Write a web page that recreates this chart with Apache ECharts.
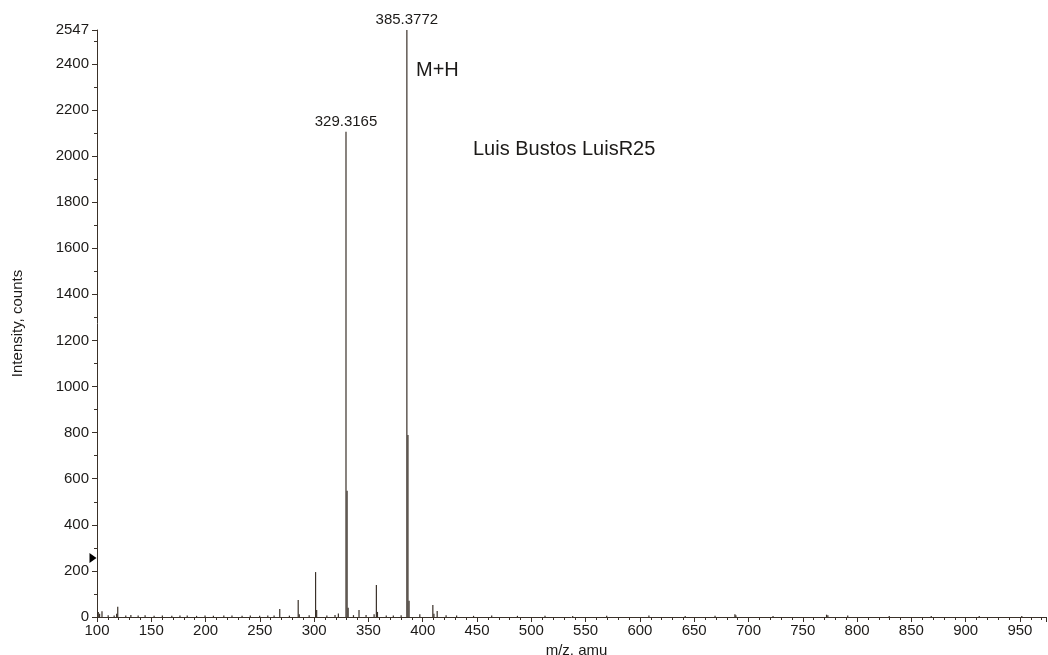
<!DOCTYPE html>
<html>
<head>
<meta charset="utf-8">
<script src="https://cdn.jsdelivr.net/npm/echarts@6/dist/echarts.min.js"></script>
<style>
  html, body { margin: 0; padding: 0; background: #fff; }
  #chart { width: 1048px; height: 655px; }
</style>
</head>
<body>
<div id="chart"></div>
<script>
// peak list (m/z, intensity in counts)
const peakMz = [101.2, 102.4, 104.6, 110.3, 115.8, 118.1, 119.1, 126.5, 131.2, 137.9, 144.3, 152.6,
    160.2, 168.9, 176.4, 183.1, 191.7, 199.5, 207.2, 216.8, 224.3, 233.6, 241.2, 249.8, 257.3, 263.1,
    268.3, 277.2, 285.3, 286.3, 295.4, 301.3, 302.3, 311.7, 319.2, 322.3, 329.3165, 330.32, 331.3,
    336.2, 341.3, 347.8, 355.2, 357.3, 358.3, 366.4, 372.9, 380.1, 385.3772, 386.38, 387.4, 397.3,
    409.3, 410.3, 413.3, 421.5, 431.2, 446.8, 463.5, 487.2, 512.6, 538.1, 569.4, 608.3, 641.7, 669.2,
    687.5, 688.4, 722.6, 771.9, 773.1, 791.4, 829.6, 868.3, 912.5, 951.7];
const peakInt = [22, 14, 25, 8, 6, 14, 45, 7, 9, 6, 8, 5,
    6, 5, 6, 7, 5, 6, 5, 6, 7, 5, 6, 5, 7, 6,
    35, 6, 74, 12, 8, 195, 30, 7, 9, 15, 2105, 548, 40,
    8, 30, 9, 12, 139, 22, 6, 7, 8, 2547, 790, 70, 12,
    52, 14, 26, 8, 6, 5, 6, 5, 5, 4, 5, 6, 4, 5,
    12, 8, 4, 10, 8, 6, 4, 4, 4, 4];
const labelledPeaks = [329.3165, 385.3772];

const xTicks = [100, 150, 200, 250, 300, 350, 400, 450, 500, 550, 600, 650, 700, 750, 800, 850, 900, 950];
const yTicks = [0, 200, 400, 600, 800, 1000, 1200, 1400, 1600, 1800, 2000, 2200, 2400, 2547];

const ink = '#3a3129';
const txt = '#1c1a18';
const font = '"Liberation Sans", Arial, sans-serif';

const chart = echarts.init(document.getElementById('chart'));

const barData = peakMz.map((mz, i) => {
    const item = {value: [mz, peakInt[i]]};
    if (labelledPeaks.indexOf(mz) >= 0) {
        item.label = {
            show: true,
            position: 'top',
            distance: 3,
            formatter: mz.toFixed(4),
            color: txt,
            fontSize: 15,
            fontFamily: font
        };
    }
    return item;
});

const option = {
    backgroundColor: '#fff',
    animation: false,
    grid: {left: 97, right: 2, top: 30, bottom: 38, outerBoundsMode: 'none', containLabel: false},
    xAxis: {
        type: 'value',
        min: 100,
        max: 974,
        interval: 50,
        name: 'm/z, amu',
        nameLocation: 'middle',
        nameGap: 23,
        nameTextStyle: {color: txt, fontSize: 15, fontFamily: font, padding: [0, 0, 0, 10]},
        axisLine: {lineStyle: {color: ink, width: 1}},
        axisTick: {show: true, length: 5, inside: false, lineStyle: {color: ink}},
        minorTick: {show: true, splitNumber: 5, length: 3, lineStyle: {color: ink}},
        splitLine: {show: false},
        axisLabel: {
            color: txt, fontSize: 15, fontFamily: font, margin: 6,
            formatter: v => xTicks.indexOf(v) >= 0 ? String(v) : ''
        }
    },
    yAxis: {
        type: 'value',
        min: 0,
        max: 2547,
        interval: 200,
        name: 'Intensity, counts',
        nameLocation: 'middle',
        nameGap: 72,
        nameTextStyle: {color: txt, fontSize: 15, fontFamily: font},
        axisLine: {show: true, lineStyle: {color: ink, width: 1}},
        axisTick: {show: true, length: 5, lineStyle: {color: ink}},
        minorTick: {show: true, splitNumber: 2, length: 3, lineStyle: {color: ink}},
        splitLine: {show: false},
        axisLabel: {
            color: txt, fontSize: 15, fontFamily: font, margin: 8,
            formatter: v => yTicks.indexOf(v) >= 0 ? String(v) : ''
        }
    },
    series: [{
        type: 'bar',
        barWidth: 1.2,
        itemStyle: {color: ink},
        data: barData,
        markPoint: {
            silent: true,
            symbol: 'triangle',
            symbolSize: [10, 7],
            symbolRotate: -90,
            symbolOffset: [-4, 0],
            itemStyle: {color: '#000'},
            label: {show: false},
            data: [{coord: [100, 256]}]
        }
    }],
    graphic: [
        {type: 'text', left: 416, top: 60, style: {text: 'M+H', fill: txt, font: '20px ' + font}},
        {type: 'text', left: 473, top: 139, style: {text: 'Luis Bustos LuisR25', fill: txt, font: '20px ' + font}}
    ]
};

chart.setOption(option);

window.addEventListener('resize', chart.resize.bind(chart));
</script>
</body>
</html>
